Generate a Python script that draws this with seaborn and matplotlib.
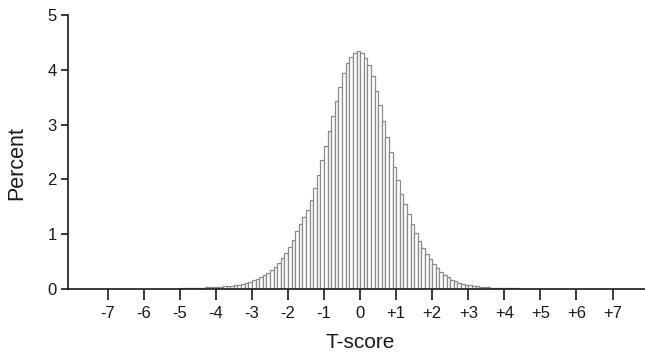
import numpy as np
import pandas as pd
import matplotlib
matplotlib.use("Agg")
import matplotlib.pyplot as plt
import seaborn as sns

# Bin centers (width 0.1) and percent values
bin_centers = [round(-4.95 + 0.1 * i, 2) for i in range(100)]
percent = [
    0.010, 0.010, 0.010, 0.015, 0.020, 0.020, 0.025, 0.030, 0.030, 0.035,   # -4.95 .. -4.05
    0.040, 0.045, 0.050, 0.055, 0.060, 0.070, 0.080, 0.090, 0.110, 0.130,   # -3.95 .. -3.05
    0.160, 0.190, 0.220, 0.260, 0.300, 0.350, 0.410, 0.480, 0.560, 0.660,   # -2.95 .. -2.05
    0.770, 0.890, 1.050, 1.180, 1.310, 1.450, 1.620, 1.850, 2.080, 2.350,   # -1.95 .. -1.05
    2.610, 2.890, 3.160, 3.430, 3.690, 3.940, 4.120, 4.240, 4.310, 4.350,   # -0.95 .. -0.05
    4.300, 4.220, 4.080, 3.880, 3.620, 3.350, 3.060, 2.780, 2.500, 2.220,   # 0.05 .. 0.95
    1.980, 1.740, 1.550, 1.360, 1.180, 1.020, 0.870, 0.750, 0.640, 0.540,   # 1.05 .. 1.95
    0.460, 0.380, 0.310, 0.260, 0.210, 0.170, 0.140, 0.110, 0.090, 0.075,   # 2.05 .. 2.95
    0.065, 0.055, 0.048, 0.042, 0.036, 0.031, 0.027, 0.023, 0.020, 0.017,   # 3.05 .. 3.95
    0.015, 0.013, 0.011, 0.010, 0.008, 0.006, 0.005, 0.005, 0.004, 0.004,   # 4.05 .. 4.95
]
x_ticks = [-7, -6, -5, -4, -3, -2, -1, 0, 1, 2, 3, 4, 5, 6, 7]
x_tick_labels = ["-7", "-6", "-5", "-4", "-3", "-2", "-1", "0",
                 "+1", "+2", "+3", "+4", "+5", "+6", "+7"]
y_ticks = [0, 1, 2, 3, 4, 5]

sns.set_theme(style="ticks")
plt.rcParams["font.family"] = ["Liberation Sans", "DejaVu Sans"]

fig = plt.figure(figsize=(6.45, 3.6), dpi=100)
ax = fig.add_axes([68 / 645, 1 - 289 / 360, 1 - 68 / 645, (289 - 15) / 360])

df = pd.DataFrame({"tscore": bin_centers, "percent": percent})
edges = [round(-5.0 + 0.1 * i, 2) for i in range(101)]
sns.histplot(data=df, x="tscore", weights="percent", bins=edges, ax=ax,
             color="white", edgecolor="#8a8a8a", linewidth=0.9, alpha=1.0)

ax.set_xlim(-8.1, 7.9)
ax.set_ylim(0, 5)
ax.set_xticks(x_ticks)
ax.set_xticklabels(x_tick_labels)
ax.set_yticks(y_ticks)
ax.set_xlabel("T-score", fontsize=15, color="#1a1a1a")
ax.set_ylabel("Percent", fontsize=15.5, color="#1a1a1a")
ax.xaxis.set_label_coords((360.5 - 68) / (645 - 68), -(343 - 289) / 274, transform=ax.transAxes)
ax.yaxis.set_label_coords(-(68 - 17) / 577, (289 - 163) / 274, transform=ax.transAxes)
ax.xaxis.label.set_va("center")
ax.yaxis.label.set_va("center")

for s in ["top", "right"]:
    ax.spines[s].set_visible(False)
for s in ["left", "bottom"]:
    ax.spines[s].set_color("#1a1a1a")
    ax.spines[s].set_linewidth(1.2)
ax.tick_params(axis="x", length=8, width=1.2, direction="out", colors="#1a1a1a",
               labelsize=12, pad=4)
ax.tick_params(axis="y", length=5, width=1.2, direction="out", colors="#1a1a1a",
               labelsize=12, pad=3)

fig.savefig("out.png", dpi=100)
